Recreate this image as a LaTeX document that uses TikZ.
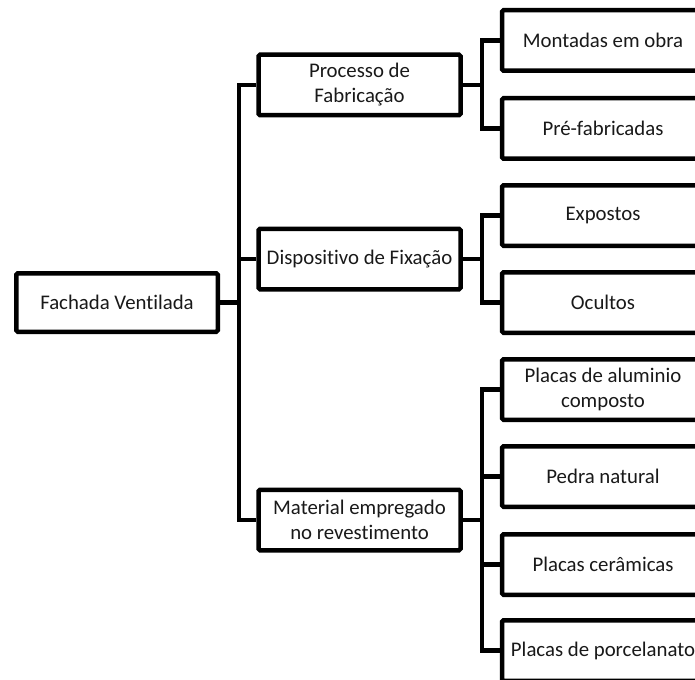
\documentclass[tikz,border=0pt]{standalone}
\usepackage{fontspec}
\setmainfont{Carlito}[Ligatures=NoCommon]
\begin{document}
\begin{tikzpicture}[x=1pt,y=-1pt,
  box/.style={draw=black,line width=4.5pt,rounded corners=1.5pt,fill=white,
    minimum width=202pt,minimum height=60.5pt,inner sep=2pt,align=center,
    font=\fontsize{20.8}{25}\selectfont,text=black!90},
  rootbox/.style={box,minimum width=201.5pt,minimum height=58.5pt},
  link/.style={draw=black,line width=4.5pt,line join=miter}]
\useasboundingbox (0,0) rectangle (695,679);
\clip (0,0) rectangle (695,679);
% nodes
\node[rootbox] (root) at (117,302.5) {Fachada Ventilada};
\node[box] (p1) at (359.5,85) {Processo de\\Fabricação};
\node[box] (p2) at (359.5,259) {Dispositivo de Fixação};
\node[box] (p3) at (359.5,520) {Material empregado\\no revestimento};
\node[box] (c1) at (603,40.5) {Montadas em obra};
\node[box] (c2) at (603,128.5) {Pré-fabricadas};
\node[box] (c3) at (603,215.5) {Expostos};
\node[box] (c4) at (603,302.5) {Ocultos};
\node[box] (c5) at (603,389.5) {Placas de aluminio\\composto};
\node[box] (c6) at (603,476.5) {Pedra natural};
\node[box] (c7) at (603,564.5) {Placas cerâmicas};
\node[box] (c8) at (603,650.5) {Placas de porcelanato};
% junctions
\coordinate (j0) at (239,302.5);
\coordinate (j1) at (482,85);
\coordinate (j2) at (482,259);
\coordinate (j3) at (482,520);
% connectors
\foreach \c in {p1,p2,p3} \draw[link] (root.east) -- (j0) |- (\c.west);
\foreach \c in {c1,c2} \draw[link] (p1.east) -- (j1) |- (\c.west);
\foreach \c in {c3,c4} \draw[link] (p2.east) -- (j2) |- (\c.west);
\foreach \c in {c5,c6,c7,c8} \draw[link] (p3.east) -- (j3) |- (\c.west);
\end{tikzpicture}
\end{document}
